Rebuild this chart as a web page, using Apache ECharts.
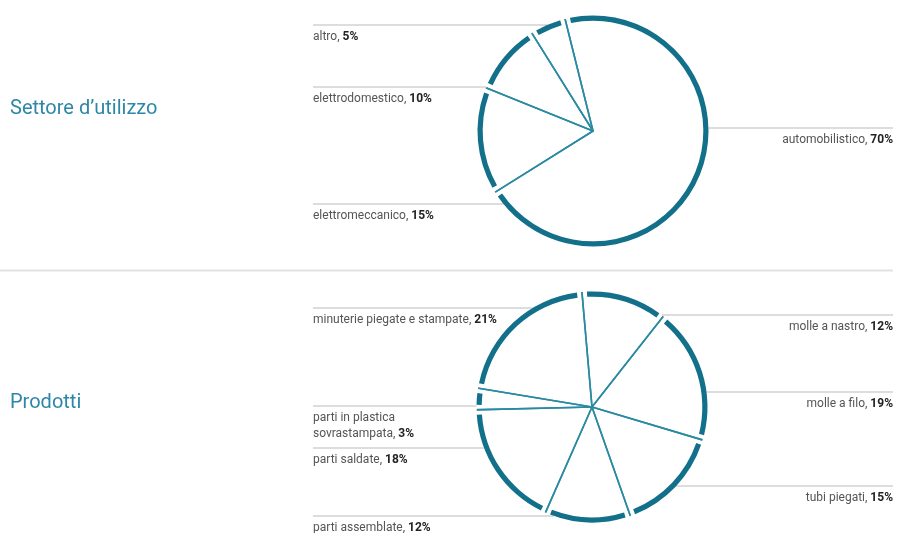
<!DOCTYPE html>
<html>
<head>
<meta charset="utf-8">
<script src="https://cdn.jsdelivr.net/npm/echarts@6/dist/echarts.min.js"></script>
<style>
  html, body { margin: 0; padding: 0; background: #fff; }
  #chart { width: 897px; height: 533px; }
</style>
</head>
<body>
<div id="chart"></div>
<script>
// Quote per settore d'utilizzo (%)
const sectorNames = ['automobilistico', 'elettromeccanico', 'elettrodomestico', 'altro'];
const sectorShares = [70, 15, 10, 5];

// Quote per prodotto (%)
const productNames = ['molle a nastro', 'molle a filo', 'tubi piegati', 'parti assemblate',
  'parti saldate', 'parti in plastica\nsovrastampata', 'minuterie piegate e stampate'];
const productShares = [12, 19, 15, 12, 18, 3, 21];

const panelTitles = ['Settore d’utilizzo', 'Prodotti'];

// Label rows: which side each label sits on and the y of the grey rule above it
const sectorRows = [['right', 128], ['left', 204], ['left', 87], ['left', 25]];
const productRows = [['right', 315], ['right', 392], ['right', 486], ['left', 516],
  ['left', 448], ['left', 406], ['left', 308]];

const FONT = "'Liberation Sans Narrow', 'Roboto', sans-serif";
const TEAL = '#13708a';
const TEAL_THIN = '#2a8aa2';
const R_OUT = 115.5;
const R_IN = 110.3;
const LEFT_EDGE = 313;
const RIGHT_EDGE = 893;
const LABEL_SIZE = 12;

function labelText(p) {
  const parts = p.name.split('\n');
  return parts.map((s, i) => i < parts.length - 1 ? `{n|${s}}` : `{n|${s}, }{v|${p.value}%}`).join('\n');
}

function pieGroup(names, values, center, startAngle, rows) {
  const data = names.map((n, i) => ({ name: n, value: values[i] }));
  const common = {
    type: 'pie', center, startAngle, clockwise: true, silent: true,
    emphasis: { disabled: true }, avoidLabelOverlap: false,
    label: { show: false }, labelLine: { show: false }, data
  };
  return [
    // thin spokes between slices
    Object.assign({}, common, {
      z: 1, radius: [0, R_OUT + 4],
      itemStyle: { color: 'rgba(0,0,0,0)', borderColor: TEAL_THIN, borderWidth: 1.6 }
    }),
    // white band hiding the spokes' outer arc
    Object.assign({}, common, {
      z: 2, radius: [R_OUT + 1, R_OUT + 10],
      itemStyle: { color: '#fff', borderColor: '#fff', borderWidth: 2 }
    }),
    // thick outer rim, one arc per slice
    Object.assign({}, common, {
      z: 3, radius: [R_IN, R_OUT], padAngle: 5,
      itemStyle: { color: TEAL, borderWidth: 0 },
      label: {
        show: true, position: 'outside', formatter: labelText,
        fontFamily: FONT, fontSize: LABEL_SIZE, lineHeight: 16, color: '#555',
        rich: {
          n: { fontFamily: FONT, fontSize: LABEL_SIZE, lineHeight: 16, color: '#555' },
          v: { fontFamily: FONT, fontSize: LABEL_SIZE, lineHeight: 16, color: '#222', fontWeight: 'bold' }
        }
      },
      labelLine: { show: true, smooth: false, lineStyle: { color: '#d2d2d2', width: 1.5 } },
      labelLayout: function (p) {
        const side = rows[p.dataIndex][0];
        const y = rows[p.dataIndex][1];
        const dy = y - center[1];
        const half = Math.sqrt(Math.max(0, R_OUT * R_OUT - dy * dy));
        const edgeX = side === 'left' ? center[0] - half : center[0] + half;
        const farX = side === 'left' ? LEFT_EDGE : RIGHT_EDGE;
        return {
          x: farX, y: y + 4, align: side, verticalAlign: 'top',
          labelLinePoints: [[edgeX, y], [edgeX, y], [farX, y]]
        };
      }
    })
  ];
}

const chart = echarts.init(document.getElementById('chart'), null, { renderer: 'canvas' });
chart.setOption({
  backgroundColor: '#fff',
  animation: false,
  title: [
    { text: panelTitles[0], left: 10, top: 99, padding: 0,
      textStyle: { fontFamily: FONT, fontSize: 20, fontWeight: 'normal', color: '#2e87a6' } },
    { text: panelTitles[1], left: 10, top: 393, padding: 0,
      textStyle: { fontFamily: FONT, fontSize: 20, fontWeight: 'normal', color: '#2e87a6' } }
  ],
  graphic: [{
    type: 'line', silent: true,
    shape: { x1: 0, y1: 270.5, x2: 893, y2: 270.5 },
    style: { stroke: '#e2e2e2', lineWidth: 2 }
  }],
  series: [].concat(
    pieGroup(sectorNames, sectorShares, [593, 131], 104, sectorRows),
    pieGroup(productNames, productShares, [592, 407], 95, productRows)
  )
});
</script>
</body>
</html>
